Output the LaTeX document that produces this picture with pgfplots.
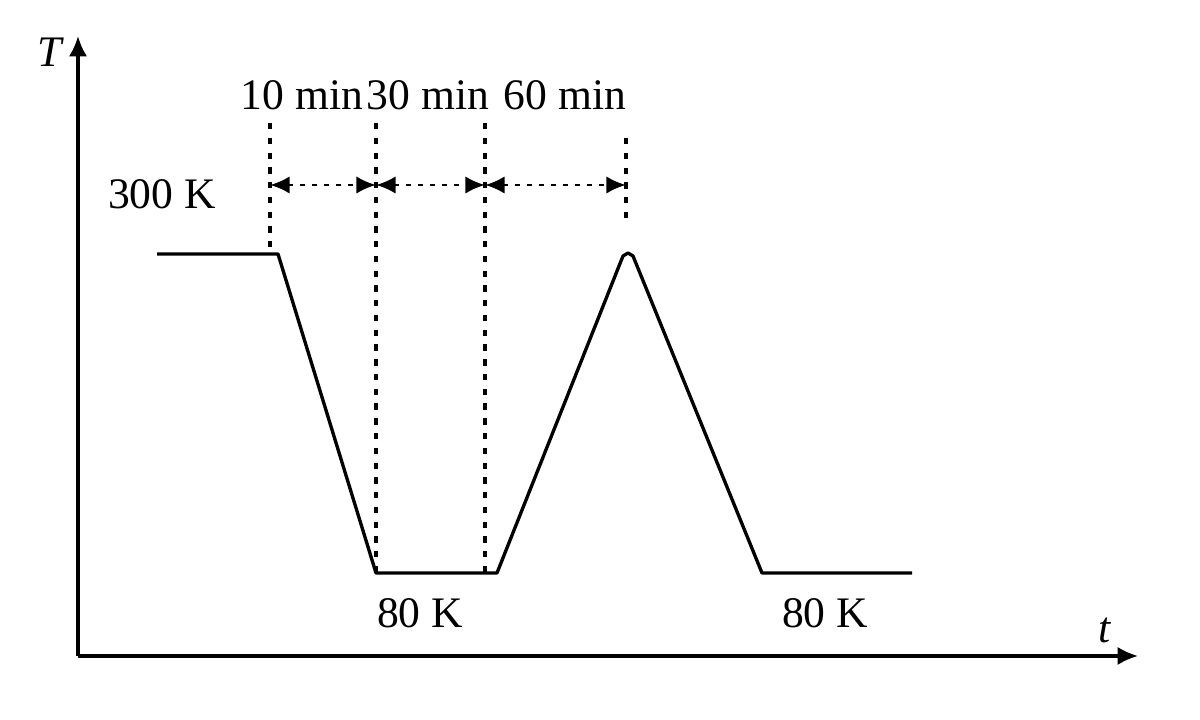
\documentclass[border=0pt]{standalone}
\usepackage{fontspec}
\setmainfont{Liberation Serif}
\usepackage{pgfplots}
\pgfplotsset{compat=1.18}
\usetikzlibrary{arrows.meta}
\begin{document}
\begin{tikzpicture}
\begin{axis}[hide axis, scale only axis, width=12cm, height=7.2cm,
  xmin=0, xmax=1200, ymin=0, ymax=720, clip=false]
\path (axis cs:0,0) rectangle (axis cs:1200,720);
% axes
\addplot[black, line width=0.9pt, -{Latex[length=5.8pt,width=5.2pt]}] coordinates {(78,64) (1138,64)};
\addplot[black, line width=0.9pt, -{Latex[length=5.8pt,width=5.2pt]}] coordinates {(78,64) (78,684)};
% temperature profile
\addplot[black, line width=0.95pt, line join=round] coordinates {
(157,466) (278,466) (376,147) (497,147) (623,464) (628,467) (633,464) (762,147) (912,147)};
% dashed verticals
\addplot[black, line width=0.9pt, dash pattern=on 1.8pt off 2.4pt] coordinates {(270,597) (270,466)};
\addplot[black, line width=0.9pt, dash pattern=on 1.8pt off 2.4pt] coordinates {(376,597) (376,147)};
\addplot[black, line width=0.9pt, dash pattern=on 1.8pt off 2.4pt] coordinates {(485,597) (485,147)};
\addplot[black, line width=0.9pt, dash pattern=on 1.8pt off 2.4pt] coordinates {(626,582) (626,498)};
% dotted double arrows
\addplot[black, line width=0.85pt, dash pattern=on 1.4pt off 2pt, {Latex[length=5.6pt,width=5pt]}-{Latex[length=5.6pt,width=5pt]}] coordinates {(270,535) (376,535)};
\addplot[black, line width=0.85pt, dash pattern=on 1.4pt off 2pt, {Latex[length=5.6pt,width=5pt]}-{Latex[length=5.6pt,width=5pt]}] coordinates {(376,535) (485,535)};
\addplot[black, line width=0.85pt, dash pattern=on 1.4pt off 2pt, {Latex[length=5.6pt,width=5pt]}-{Latex[length=5.6pt,width=5pt]}] coordinates {(485,535) (626,535)};
% labels
\def\fs{\fontsize{12.4}{14}\selectfont}
\node[font=\fs, anchor=west, inner sep=0pt] at (axis cs:240,625) {10 min};
\node[font=\fs, anchor=west, inner sep=0pt] at (axis cs:366,625) {30 min};
\node[font=\fs, anchor=west, inner sep=0pt] at (axis cs:503,625) {60 min};
\node[font=\fs] at (axis cs:162,526) {300 K};
\node[font=\fs] at (axis cs:420,107) {80 K};
\node[font=\fs] at (axis cs:825,107) {80 K};
\node[font=\fs\itshape] at (axis cs:50,668) {T};
\node[font=\fs\itshape] at (axis cs:1105,90) {t};
\end{axis}
\end{tikzpicture}
\end{document}
